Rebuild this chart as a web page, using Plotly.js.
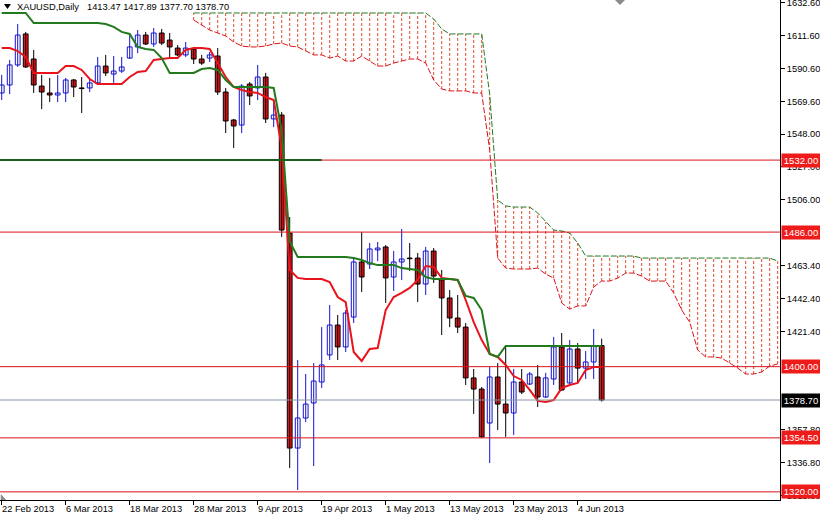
<!DOCTYPE html>
<html><head><meta charset="utf-8">
<script src="https://cdn.plot.ly/plotly-3.0.1.min.js"></script>
<style>html,body{margin:0;padding:0;background:#fff}#chart{width:820px;height:516px}</style>
</head><body><div id="chart"></div>
<script>
// ---- data (bar index 0 = 22 Feb 2013, daily bars) ----
const open = [1574.9,1580.0,1592.8,1612.6,1596.6,1579.3,1574.9,1573.6,1574.9,1583.2,
1578.1,1578.1,1581.3,1592.1,1587.0,1588.9,1597.2,1604.3,1611.9,1606.2,
1613.2,1608.7,1603.6,1599.2,1603.0,1596.6,1597.2,1598.5,1575.5,1557.6,
1554.4,1580.6,1578.1,1585.1,1558.3,1560.8,1485.4,1348.0,1367.2,1376.8,
1390.2,1407.5,1426.6,1412.6,1431.7,1466.9,1465.6,1474.6,1476.5,1457.3,
1466.9,1469.4,1469.4,1452.8,1473.9,1455.4,1443.9,1431.1,1425.3,1392.8,
1385.7,1364.0,1393.4,1376.1,1370.4,1390.2,1388.9,1393.4,1380.6,1392.1,
1412.6,1389.6,1411.3,1399.1,1403.0,1413.47];
const high = [1586.4,1596.0,1619.0,1613.9,1602.4,1586.4,1584.5,1586.4,1584.5,1583.8,
1585.1,1583.2,1597.9,1599.2,1598.5,1597.9,1611.9,1615.1,1613.9,1616.4,
1615.8,1613.2,1605.5,1607.5,1604.3,1599.2,1601.1,1603.6,1578.1,1558.3,
1580.6,1581.9,1592.8,1587.7,1570.4,1562.7,1495.6,1404.3,1395.3,1402.3,
1425.3,1439.4,1433.0,1436.2,1470.1,1486.0,1479.0,1479.7,1477.7,1473.9,
1488.0,1479.0,1472.6,1476.5,1475.8,1461.8,1449.0,1445.8,1427.9,1398.5,
1387.0,1399.8,1402.3,1413.8,1398.5,1398.5,1396.6,1401.1,1396.0,1419.0,
1421.5,1417.0,1415.1,1410.0,1424.1,1417.89];
const low = [1570.4,1574.2,1591.5,1590.9,1574.9,1564.6,1569.1,1569.1,1569.1,1572.3,
1562.1,1575.5,1580.0,1585.7,1580.0,1587.7,1596.6,1600.4,1605.5,1604.3,
1605.5,1597.2,1598.5,1597.9,1593.4,1592.8,1594.7,1573.6,1549.3,1539.7,
1549.3,1567.2,1570.4,1555.7,1553.1,1482.9,1335.2,1321.2,1364.6,1336.5,
1386.4,1404.3,1404.3,1409.4,1427.9,1447.7,1462.4,1467.5,1440.7,1448.4,
1455.4,1461.1,1441.3,1445.8,1453.5,1420.2,1425.3,1421.5,1388.3,1369.8,
1354.5,1338.4,1359.5,1355.1,1356.3,1382.5,1388.3,1374.2,1380.0,1388.3,
1384.5,1389.0,1390.2,1392.1,1392.1,1377.70];
const close = [1580.0,1592.8,1611.9,1591.5,1580.0,1575.5,1573.6,1574.9,1583.2,1578.7,
1577.7,1581.3,1592.1,1587.7,1588.9,1591.5,1604.3,1611.9,1606.2,1613.2,
1606.8,1604.3,1599.2,1603.6,1596.6,1594.0,1599.2,1575.5,1557.0,1553.8,
1579.3,1573.0,1585.1,1558.3,1560.8,1487.3,1348.0,1367.2,1376.1,1390.8,
1401.1,1426.6,1412.6,1434.3,1466.9,1457.3,1475.2,1475.8,1456.7,1466.9,
1468.8,1469.0,1452.8,1473.9,1457.9,1443.9,1431.1,1425.3,1392.8,1385.7,
1355.1,1393.4,1376.1,1370.4,1390.2,1383.8,1395.3,1380.6,1392.8,1412.6,
1385.1,1411.3,1399.1,1403.0,1413.2,1378.70];
const tenkan = [1603.6,1603.6,1601.7,1597.9,1587.7,1587.7,1587.7,1587.7,1592.1,1592.1,
1589.6,1583.8,1580.6,1580.6,1580.6,1580.6,1585.1,1588.3,1588.9,1596.0,
1596.6,1597.2,1597.2,1602.4,1603.6,1603.6,1603.0,1594.0,1585.1,1578.7,
1576.8,1575.5,1574.9,1572.3,1570.4,1540.0,1461.8,1456.7,1456.0,1456.0,
1456.0,1454.1,1444.5,1441.3,1409.4,1403.6,1411.3,1411.9,1436.2,1444.5,
1447.1,1450.3,1455.4,1464.3,1463.7,1456.7,1456.0,1455.4,1442.6,1428.5,
1417.0,1408.1,1406.2,1401.1,1394.0,1391.5,1385.1,1378.1,1377.4,1378.7,
1386.3,1388.3,1389.6,1397.9,1399.8,1399.8];
const kijun = [1626.0,1626.0,1626.0,1626.0,1619.6,1619.6,1619.6,1619.6,1619.6,1619.6,
1619.6,1619.6,1619.6,1619.0,1617.1,1613.9,1612.6,1604.3,1603.0,1602.4,
1597.2,1587.7,1587.7,1587.7,1587.7,1590.2,1590.8,1589.6,1583.2,1578.7,
1578.7,1578.7,1578.7,1578.7,1578.1,1551.0,1480.0,1470.1,1470.1,1470.1,
1470.1,1470.1,1470.1,1470.1,1469.4,1468.2,1466.2,1464.9,1464.9,1464.9,
1463.0,1462.4,1461.8,1457.3,1456.0,1456.0,1456.0,1455.4,1445.2,1443.9,
1436.2,1408.1,1406.2,1413.2,1413.2,1413.2,1413.2,1413.2,1413.2,1413.2,
1413.2,1413.2,1413.2,1413.2,1413.2,1413.2];
const cloudStart = 24;
const senkouA = [1621.5,1618.3,1615.1,1613.2,1611.3,1607.5,1604.9,1604.3,1604.3,1604.9,
1606.2,1606.8,1604.9,1604.3,1601.7,1599.2,1599.2,1597.2,1598.5,1595.3,
1595.3,1598.5,1595.3,1592.1,1592.1,1594.0,1595.3,1596.6,1596.6,1594.0,
1583.2,1577.4,1576.2,1576.2,1576.2,1574.9,1574.9,1538.4,1469.4,1463.0,
1462.4,1462.4,1462.4,1463.0,1459.2,1456.6,1440.7,1436.8,1438.8,1438.8,
1450.9,1454.7,1454.7,1456.6,1459.8,1459.8,1457.9,1454.7,1454.7,1454.7,
1447.1,1436.2,1428.5,1410.7,1406.2,1406.2,1405.5,1402.3,1399.1,1395.3,
1395.3,1396.6,1400.4,1401.7];
const senkouB = [1626.0,1626.0,1626.0,1626.0,1626.0,1626.0,1626.0,1626.0,1626.0,1626.0,
1626.0,1626.0,1626.0,1626.0,1626.0,1626.0,1626.0,1626.0,1626.0,1626.0,
1626.0,1626.0,1626.0,1626.0,1626.0,1626.0,1626.0,1626.0,1626.0,1626.0,
1622.2,1615.8,1612.6,1612.6,1612.6,1612.6,1612.6,1574.0,1506.5,1502.7,
1502.0,1502.0,1502.0,1498.2,1492.4,1487.3,1486.7,1485.4,1479.0,1470.7,
1470.7,1470.7,1470.7,1470.7,1470.7,1470.7,1469.4,1469.4,1469.4,1469.4,
1469.4,1469.4,1469.4,1469.4,1469.4,1469.4,1469.4,1469.4,1469.4,1469.4,
1469.4,1469.4,1469.4,1467.5];
const dateLabels = ['22 Feb 2013','6 Mar 2013','18 Mar 2013','28 Mar 2013','9 Apr 2013','19 Apr 2013','1 May 2013','13 May 2013','23 May 2013','4 Jun 2013'];
const dateIdx = [0,8,16,24,32,40,48,56,64,72];
const levels = [1532.00,1486.00,1400.00,1354.50,1320.00];
const lastPrice = 1378.70;
const trendLevel = 1532.00, trendEndIdx = 40;
const yTickVals = [1632.6,1611.6,1590.6,1569.6,1548.6,1527.6,1506.6,1464.6,1443.6,1422.6,1359.6,1338.6,1317.6];
const yTickText = ['1632.60','1611.60','1590.60','1569.60','1548.00','1527.00','1506.00','1463.40','1442.40','1421.40','1357.80','1336.80','1315.80'];
const symbolText = 'XAUUSD,Daily';
const ohlcText = '1413.47 1417.89 1377.70 1378.70';

// ---- build traces ----
const FONT = 'Liberation Sans, Arial, sans-serif';
const n = open.length;
const bull = {x:[],base:[],len:[]}, bear = {x:[],base:[],len:[]};
const bullW = {x:[],y:[]}, bearW = {x:[],y:[]};
for (let i=0;i<n;i++){
  const up = close[i] > open[i];
  const b = up?bull:bear, w = up?bullW:bearW;
  b.x.push(i); b.base.push(Math.min(open[i],close[i]));
  b.len.push(Math.max(Math.abs(close[i]-open[i]),0.35));
  w.x.push(i,i,null); w.y.push(low[i],high[i],null);
}
const hatch = {x:[],y:[]};
const cloudX = [];
for (let k=0;k<senkouA.length;k++){
  const i = cloudStart+k; cloudX.push(i);
  hatch.x.push(i,i,null); hatch.y.push(senkouA[k],senkouB[k],null);
}
const idx = open.map((_,i)=>i);
const traces = [
  {type:'scatter',mode:'lines',x:hatch.x,y:hatch.y,line:{color:'#e4492a',width:1,dash:'3px,2px'},hoverinfo:'skip'},
  {type:'scatter',mode:'lines',x:cloudX,y:senkouA,line:{color:'#d8141b',width:1,dash:'6px,2px'},hoverinfo:'skip'},
  {type:'scatter',mode:'lines',x:cloudX,y:senkouB,line:{color:'#237a23',width:1,dash:'6px,2px'},hoverinfo:'skip'},
  {type:'scatter',mode:'lines',x:bullW.x,y:bullW.y,line:{color:'#1414c8',width:1},hoverinfo:'skip'},
  {type:'scatter',mode:'lines',x:bearW.x,y:bearW.y,line:{color:'#000000',width:1},hoverinfo:'skip'},
  {type:'bar',x:bull.x,base:bull.base,y:bull.len,width:0.6,marker:{color:'#ffffff',line:{color:'#1414c8',width:1}},hoverinfo:'skip'},
  {type:'bar',x:bear.x,base:bear.base,y:bear.len,width:0.6,marker:{color:'#e3141a',line:{color:'#000000',width:1}},hoverinfo:'skip'},
  {type:'scatter',mode:'lines',x:idx,y:tenkan,line:{color:'#e8141b',width:2},hoverinfo:'skip'},
  {type:'scatter',mode:'lines',x:idx,y:kijun,line:{color:'#217a1d',width:2},hoverinfo:'skip'}
];

const shapes = [];
levels.forEach(v=>shapes.push({type:'line',xref:'paper',x0:0,x1:1,yref:'y',y0:v,y1:v,line:{color:'#d8141b',width:1}}));
shapes.push({type:'line',xref:'paper',x0:0,x1:1,yref:'y',y0:lastPrice,y1:lastPrice,line:{color:'#8a96a4',width:1}});
shapes.push({type:'line',xref:'x',x0:-1,x1:trendEndIdx,yref:'y',y0:trendLevel,y1:trendLevel,line:{color:'#1e5c1e',width:2}});
// header triangle and chart-shift markers
shapes.push({type:'path',xref:'paper',yref:'paper',path:'M 0.0051 0.992 L 0.0141 0.992 L 0.0096 0.982 Z',fillcolor:'#000',line:{width:0}});
shapes.push({type:'path',xref:'paper',yref:'paper',path:'M 0.7885 1 L 0.8013 1 L 0.7949 0.99 Z',fillcolor:'#8a8a8a',line:{width:0}});
shapes.push({type:'path',xref:'paper',yref:'paper',path:'M 0.001 0 L 0.001 0.012 L 0.008 0 Z',fillcolor:'#8a8a8a',line:{width:0}});

const annotations = [];
annotations.push({xref:'paper',yref:'paper',x:0,y:1,xanchor:'left',yanchor:'top',xshift:15,yshift:0,text:symbolText,showarrow:false,font:{family:FONT,size:9.3,color:'#000'}});
annotations.push({xref:'paper',yref:'paper',x:0,y:1,xanchor:'left',yanchor:'top',xshift:85,yshift:0,text:ohlcText,showarrow:false,font:{family:FONT,size:9.3,color:'#000'}});
dateLabels.forEach((t,k)=>annotations.push({xref:'x',yref:'paper',x:dateIdx[k],y:0,xanchor:'left',yanchor:'top',xshift:-2,yshift:-2,text:t,showarrow:false,font:{family:FONT,size:9.3,color:'#000'}}));
levels.forEach(v=>annotations.push({xref:'paper',yref:'y',x:1,y:v,xanchor:'left',yanchor:'middle',xshift:1,text:v.toFixed(2),showarrow:false,bgcolor:'#ee1b1b',borderpad:1,width:36,font:{family:FONT,size:9.5,color:'#fff'}}));
annotations.push({xref:'paper',yref:'y',x:1,y:lastPrice,xanchor:'left',yanchor:'middle',xshift:1,text:lastPrice.toFixed(2),showarrow:false,bgcolor:'#000',borderpad:1,width:36,font:{family:FONT,size:9.5,color:'#fff'}});

const layout = {
  width:820,height:516,
  margin:{l:0,r:40,t:0,b:16,pad:0},
  paper_bgcolor:'#fff',plot_bgcolor:'#fff',
  showlegend:false,barmode:'overlay',
  font:{family:FONT,size:9.3,color:'#000'},
  xaxis:{range:[-0.2125,97.29],showgrid:false,zeroline:false,showline:true,linecolor:'#000',linewidth:1,
    tickvals:dateIdx,ticks:'outside',ticklen:4,tickcolor:'#000',showticklabels:false,automargin:false,fixedrange:true},
  yaxis:{range:[1314.8,1634.3],side:'right',showgrid:false,zeroline:false,showline:true,mirror:true,linecolor:'#000',linewidth:1,
    tickvals:yTickVals,ticktext:yTickText,ticks:'outside',ticklen:4,tickcolor:'#000',ticklabeloverflow:'allow',
    tickfont:{family:FONT,size:9.3,color:'#000'},automargin:false,fixedrange:true},
  shapes:shapes,annotations:annotations
};
Plotly.newPlot('chart',traces,layout,{staticPlot:true,displayModeBar:false});
</script></body></html>
